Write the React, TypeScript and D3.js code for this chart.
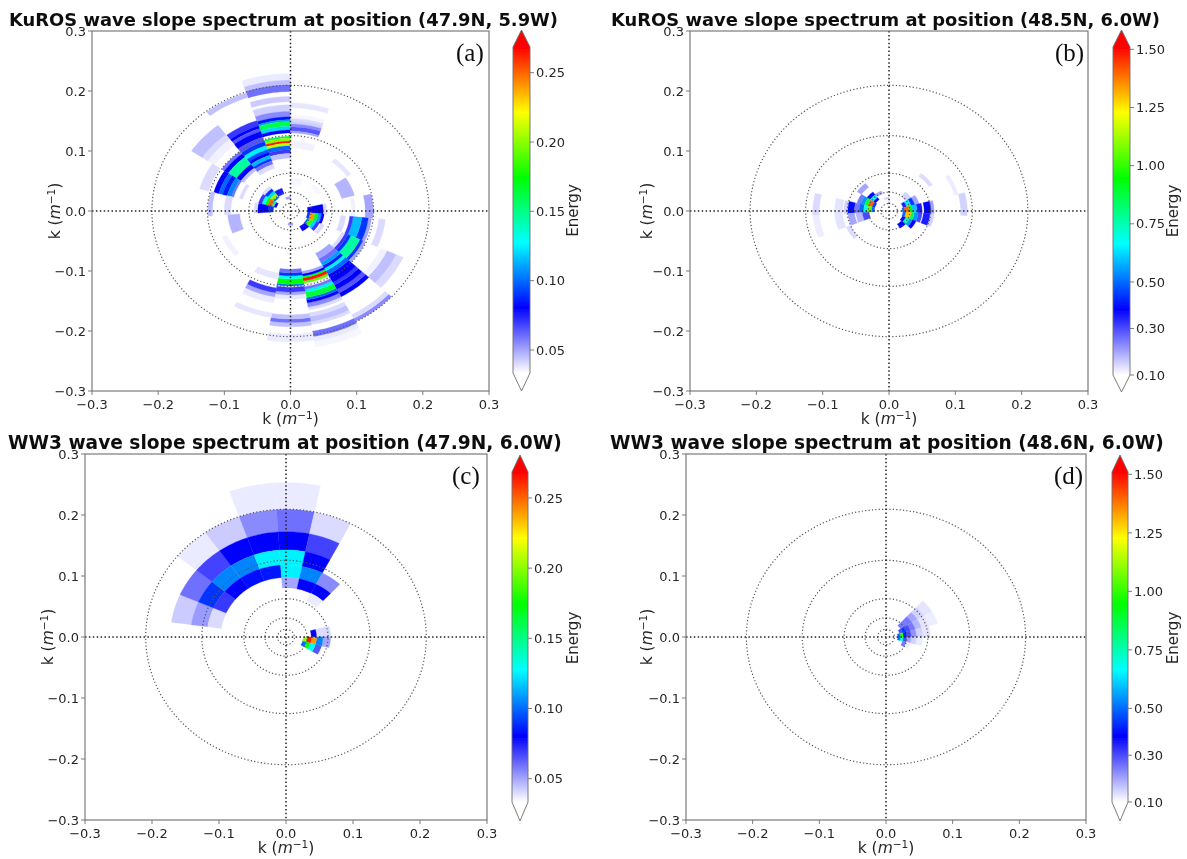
import React from "react";
import * as d3 from "d3";

type Band = [number, number, number]; // kLo, kHi, energy
type Sector = [number, number, Band[]]; // from, to (degrees clockwise from north), bands

const axisTicks = [-0.3, -0.2, -0.1, 0, 0.1, 0.2, 0.3];
// circles at wavelengths 30, 50, 100, 200, 500 m
const wavelengths = [30, 50, 100, 200, 500];
const lowTicks = [0.05, 0.1, 0.15, 0.2, 0.25];
const highTicks = [0.1, 0.3, 0.5, 0.75, 1.0, 1.25, 1.5];
const lowRange: [number, number] = [0.0334, 0.2685];
const highRange: [number, number] = [0.1, 1.51];
const colorStops = ["#ffffff", "#0000ff", "#00ffff", "#00ff00", "#ffff00", "#ff0000"];

const titleA = "KuROS wave slope spectrum at position (47.9N, 5.9W)";
const titleB = "KuROS wave slope spectrum at position (48.5N, 6.0W)";
const titleC = "WW3 wave slope spectrum at position (47.9N, 6.0W)";
const titleD = "WW3 wave slope spectrum at position (48.6N, 6.0W)";

const kurosA: Sector[] = [
  [-18.75, 0, [[0.218,0.229,0.037],[0.21,0.218,0.045],[0.199,0.21,0.06],[0.182,0.191,0.043],[0.166,0.177,0.042],[0.157,0.166,0.055],[0.152,0.157,0.085],[0.149,0.152,0.11],[0.141,0.149,0.16],[0.135,0.141,0.12],[0.13,0.135,0.08],[0.1214,0.1245,0.16],[0.1165,0.1214,0.2],[0.113,0.1165,0.265],[0.1085,0.113,0.21],[0.102,0.1085,0.1],[0.096,0.102,0.07],[0.088,0.096,0.045],[0.02,0.024,0.05]]],
  [-37.5, -18.75, [[0.2,0.208,0.045],[0.15,0.159,0.07],[0.145,0.15,0.08],[0.14,0.145,0.065],[0.13,0.14,0.08],[0.122,0.13,0.065],[0.115,0.122,0.09],[0.108,0.115,0.125],[0.103,0.108,0.095],[0.098,0.103,0.08],[0.092,0.098,0.115],[0.088,0.092,0.09],[0.082,0.088,0.06],[0.075,0.082,0.04],[0.03,0.04,0.075]]],
  [-56.25, -37.5, [[0.16,0.18,0.045],[0.15,0.16,0.04],[0.138,0.15,0.036],[0.12,0.125,0.06],[0.113,0.12,0.08],[0.098,0.113,0.145],[0.09,0.098,0.08],[0.085,0.09,0.045],[0.028,0.031,0.1],[0.031,0.037,0.2],[0.037,0.042,0.12],[0.042,0.047,0.09],[0.047,0.052,0.04]]],
  [-75, -56.25, [[0.128,0.142,0.04],[0.112,0.12,0.08],[0.106,0.112,0.1],[0.099,0.106,0.085],[0.092,0.099,0.105],[0.089,0.092,0.06],[0.075,0.08,0.04],[0.022,0.026,0.08],[0.026,0.029,0.15],[0.029,0.036,0.25],[0.036,0.04,0.175],[0.04,0.045,0.13],[0.045,0.05,0.07]]],
  [-93.75, -75, [[0.118,0.125,0.045],[0.09,0.1,0.04],[0.026,0.034,0.09],[0.034,0.05,0.08],[0.05,0.055,0.04]]],
  [0, 18.75, [[0.172,0.18,0.038],[0.154,0.16,0.035],[0.15,0.154,0.04],[0.145,0.15,0.042],[0.14,0.145,0.055],[0.133,0.14,0.065],[0.13,0.133,0.05],[0.105,0.116,0.036],[0.045,0.055,0.035]]],
  [37.5, 56.25, [[0.103,0.11,0.038],[0.05,0.056,0.035]]],
  [56.25, 75, [[0.08,0.1,0.047]]],
  [76.9, 95.6, [[0.113,0.125,0.05],[0.092,0.098,0.036],[0.026,0.05,0.08],[0.05,0.055,0.04]]],
  [95.6, 114.4, [[0.134,0.144,0.04],[0.118,0.123,0.05],[0.108,0.118,0.09],[0.095,0.108,0.115],[0.09,0.095,0.07],[0.076,0.084,0.04],[0.026,0.03,0.09],[0.03,0.037,0.24],[0.037,0.042,0.17],[0.042,0.047,0.11],[0.047,0.051,0.08]]],
  [114.4, 133.1, [[0.175,0.187,0.04],[0.16,0.175,0.045],[0.15,0.16,0.036],[0.12,0.125,0.05],[0.115,0.12,0.09],[0.1,0.115,0.145],[0.095,0.1,0.09],[0.09,0.095,0.07],[0.085,0.09,0.04],[0.05,0.056,0.04],[0.028,0.031,0.1],[0.031,0.038,0.185],[0.038,0.043,0.12],[0.043,0.048,0.07]]],
  [133.1, 151.9, [[0.203,0.209,0.055],[0.196,0.203,0.04],[0.155,0.162,0.08],[0.148,0.155,0.065],[0.14,0.148,0.08],[0.135,0.14,0.07],[0.12,0.135,0.08],[0.113,0.12,0.1],[0.108,0.113,0.125],[0.103,0.108,0.085],[0.097,0.103,0.11],[0.09,0.097,0.06],[0.08,0.09,0.05],[0.029,0.038,0.08]]],
  [151.9, 170.6, [[0.22,0.23,0.035],[0.212,0.22,0.037],[0.203,0.212,0.06],[0.187,0.192,0.04],[0.178,0.187,0.045],[0.172,0.178,0.04],[0.162,0.167,0.04],[0.155,0.162,0.055],[0.15,0.155,0.08],[0.146,0.15,0.1],[0.137,0.146,0.165],[0.132,0.137,0.125],[0.128,0.132,0.06],[0.118,0.122,0.19],[0.113,0.118,0.265],[0.11,0.113,0.17],[0.106,0.11,0.08],[0.102,0.106,0.05]]],
  [170.6, 189.4, [[0.205,0.218,0.037],[0.186,0.193,0.045],[0.18,0.186,0.06],[0.173,0.18,0.045],[0.14,0.147,0.037],[0.135,0.14,0.05],[0.127,0.135,0.07],[0.122,0.125,0.1],[0.113,0.122,0.175],[0.108,0.113,0.13],[0.103,0.108,0.09],[0.097,0.103,0.06],[0.02,0.024,0.05]]],
  [189.4, 208.1, [[0.172,0.18,0.038],[0.145,0.155,0.037],[0.138,0.145,0.05],[0.13,0.138,0.07],[0.105,0.115,0.038]]],
  [228, 247, [[0.104,0.112,0.036]]],
  [247, 266.25, [[0.077,0.095,0.047]]],
];

const kurosB: Sector[] = [
  [37.5, 56.25, [[0.073,0.079,0.14],[0.03,0.04,0.15]]],
  [56.25, 75, [[0.102,0.108,0.12],[0.04,0.047,0.2],[0.034,0.04,0.45],[0.027,0.034,0.65],[0.022,0.027,0.35]]],
  [75, 93.75, [[0.108,0.118,0.15],[0.063,0.068,0.2],[0.053,0.063,0.38],[0.042,0.05,0.35],[0.035,0.042,0.6],[0.03,0.035,0.95],[0.023,0.03,1.4],[0.02,0.023,0.5]]],
  [93.75, 112.5, [[0.062,0.068,0.15],[0.052,0.062,0.35],[0.044,0.05,0.3],[0.038,0.044,0.55],[0.033,0.038,0.85],[0.025,0.033,1.3],[0.021,0.025,0.5]]],
  [112.5, 131.25, [[0.038,0.044,0.38],[0.033,0.038,0.55],[0.027,0.033,0.75],[0.022,0.027,0.4]]],
  [131.25, 150, [[0.025,0.033,0.38]]],
  [-18.75, 0, [[0.02,0.023,0.15]]],
  [-37.5, -18.75, [[0.03,0.035,0.2]]],
  [-56.25, -37.5, [[0.05,0.058,0.2],[0.034,0.04,0.4],[0.028,0.034,0.65],[0.024,0.028,0.38]]],
  [-75, -56.25, [[0.044,0.05,0.25],[0.038,0.044,0.55],[0.033,0.038,0.9],[0.026,0.033,1.4],[0.022,0.026,0.45]]],
  [-93.75, -75, [[0.105,0.115,0.14],[0.07,0.082,0.13],[0.062,0.068,0.15],[0.052,0.062,0.4],[0.045,0.052,0.25],[0.038,0.045,0.5],[0.033,0.038,0.7],[0.026,0.033,1.05],[0.022,0.026,0.5]]],
  [-112.5, -93.75, [[0.105,0.115,0.12],[0.07,0.082,0.13],[0.052,0.062,0.2],[0.04,0.05,0.18],[0.03,0.04,0.3]]],
  [-131.25, -112.5, [[0.063,0.07,0.14]]],
];

// WW3 frequency bins share one set of edges, outermost first
const ww3Edges = [0.253, 0.209, 0.1727, 0.1427, 0.118, 0.0975, 0.0806, 0.0666, 0.055, 0.0455, 0.0376, 0.031, 0.0257, 0.0212, 0.0175];
type Row = [number, number, number, number[]]; // from, to, first bin, values

const ww3C: Row[] = [
  [-81.9, -66.3, 2, [0.043, 0.052, 0.04]],
  [-66.3, -50.7, 2, [0.06, 0.09, 0.07]],
  [-50.7, -35.1, 1, [0.037, 0.068, 0.105, 0.08]],
  [-35.1, -19.5, 1, [0.043, 0.08, 0.105, 0.082]],
  [-19.5, -3.9, 0, [0.037, 0.055, 0.08, 0.125, 0.085]],
  [-3.9, 11.7, 0, [0.037, 0.06, 0.08, 0.125, 0.125, 0.05]],
  [11.7, 27.4, 1, [0.04, 0.068, 0.08, 0.105, 0.08]],
  [27.4, 43, 4, [0.055, 0.08, 0.037]],
  [74.2, 89.8, 7, [0.04, 0.04, 0.08]],
  [89.8, 105.4, 7, [0.05, 0.105, 0.24, 0.265, 0.2]],
  [105.4, 121, 8, [0.065, 0.13, 0.17, 0.1]],
];

const ww3D: Row[] = [
  [43, 58.6, 6, [0.13, 0.15, 0.2, 0.25, 0.25, 0.25]],
  [58.6, 74.2, 6, [0.12, 0.13, 0.18, 0.25, 0.3, 0.45, 0.3]],
  [74.2, 89.8, 7, [0.13, 0.15, 0.22, 0.3, 0.42, 1.0, 0.5]],
  [89.8, 105.4, 7, [0.1, 0.12, 0.15, 0.2, 0.3, 0.7, 0.5]],
  [105.4, 121, 10, [0.12, 0.25]],
];

const rowsToSectors = (rows: Row[]): Sector[] =>
  rows.map(([from, to, first, vals]) => [
    from,
    to,
    vals.map((v, i): Band => [ww3Edges[first + i + 1], ww3Edges[first + i], v]),
  ]);

const makeColor = (range: [number, number]) =>
  d3
    .scaleLinear<string>()
    .domain(colorStops.map((_, i) => range[0] + ((range[1] - range[0]) * i) / (colorStops.length - 1)))
    .range(colorStops)
    .clamp(true);

const FONT = "DejaVu Sans";
const INK = "#262626";
const SPINE = "#6e6e6e";
const fmt = (t: number) => d3.format(".1f")(t).replace("-", "\u2212");

type PanelProps = {
  id: string;
  box: [number, number, number, number]; // left, top, right, bottom
  title: string;
  titleX: number;
  titleY: number;
  titleSize: number;
  letter: string;
  letterX: number;
  sectors: Sector[];
  range: [number, number];
  ticks: number[];
  tickFmt: string;
  bar: [number, number, number, number, number, number]; // x0, x1, tipTop, bodyTop, bodyBottom, tipBottom
  barLabelX: number;
  yLabelX: number;
};

function KLabel({ x, y, rotate }: { x: number; y: number; rotate?: boolean }) {
  return (
    <text
      transform={rotate ? `translate(${x},${y}) rotate(-90)` : `translate(${x},${y})`}
      textAnchor="middle"
      fontFamily={FONT}
      fontSize={15.5}
      fill={INK}
    >
      k (<tspan fontStyle="italic">m</tspan>
      <tspan fontSize={10.5} dy={-5}>{"\u22121"}</tspan>
      <tspan dy={5}>)</tspan>
    </text>
  );
}

function Panel(p: PanelProps) {
  const [l, t, r, b] = p.box;
  const x = d3.scaleLinear().domain([-0.3, 0.3]).range([l, r]);
  const y = d3.scaleLinear().domain([-0.3, 0.3]).range([b, t]);
  const color = makeColor(p.range);
  const line = d3.line<[number, number]>().x((d) => x(d[0])).y((d) => y(d[1]));
  const arcPts = (k: number, a0: number, a1: number) =>
    d3.range(0, 1.0001, 0.1).map((f): [number, number] => {
      const a = ((a0 + (a1 - a0) * f) * Math.PI) / 180;
      return [k * Math.sin(a), k * Math.cos(a)];
    });
  const cellPath = (from: number, to: number, lo: number, hi: number) =>
    line([...arcPts(hi, from, to), ...arcPts(lo, to, from)]) + "Z";
  const circlePath = (k: number) => line(d3.range(0, 361, 3).map((a): [number, number] => {
    const rad = (a * Math.PI) / 180;
    return [k * Math.sin(rad), k * Math.cos(rad)];
  }));

  const [bx0, bx1, tipTop, bodyTop, bodyBottom, tipBottom] = p.bar;
  const barY = d3.scaleLinear().domain(p.range).range([bodyBottom, bodyTop]);
  const bxm = (bx0 + bx1) / 2;
  const gradId = `grad-${p.id}`;
  const clipId = `clip-${p.id}`;

  return (
    <g>
      <text x={p.titleX} y={p.titleY} fontFamily={FONT} fontWeight="bold" fontSize={p.titleSize} fill="#111">
        {p.title}
      </text>
      <clipPath id={clipId}>
        <rect x={l} y={t} width={r - l} height={b - t} />
      </clipPath>
      <g clipPath={`url(#${clipId})`}>
        <g filter="url(#soft)">
          {p.sectors.flatMap(([from, to, bands], i) =>
            bands.map(([lo, hi, v], j) => (
              <path key={`${i}-${j}`} d={cellPath(from, to, lo, hi)} fill={color(v)} stroke={color(v)} strokeWidth={0.3} />
            ))
          )}
        </g>
        {wavelengths.map((w) => (
          <path key={w} d={circlePath((2 * Math.PI) / w) ?? ""} fill="none" stroke="#555" strokeWidth={1.2} strokeDasharray="1.2 2.2" />
        ))}
        <line x1={x(0)} x2={x(0)} y1={t} y2={b} stroke="#222" strokeWidth={1.5} strokeDasharray="1.5 2.4" />
        <line x1={l} x2={r} y1={y(0)} y2={y(0)} stroke="#222" strokeWidth={1.5} strokeDasharray="1.5 2.4" />
      </g>
      <rect x={l} y={t} width={r - l} height={b - t} fill="none" stroke={SPINE} strokeWidth={1.1} />
      {axisTicks.map((tk) => (
        <g key={tk}>
          <line x1={x(tk)} x2={x(tk)} y1={b} y2={b + 4} stroke={SPINE} strokeWidth={0.9} />
          <text x={x(tk)} y={b + 18} textAnchor="middle" fontFamily={FONT} fontSize={13} fill={INK}>
            {fmt(tk)}
          </text>
          <line x1={l - 4} x2={l} y1={y(tk)} y2={y(tk)} stroke={SPINE} strokeWidth={0.9} />
          <text x={l - 6} y={y(tk) + 4.7} textAnchor="end" fontFamily={FONT} fontSize={13} fill={INK}>
            {fmt(tk)}
          </text>
        </g>
      ))}
      <KLabel x={x(0)} y={b + 33} />
      <KLabel x={p.yLabelX} y={y(0)} rotate />
      <text x={p.letterX} y={t + 30} fontFamily="Liberation Serif" fontSize={25} fill="#111">
        {p.letter}
      </text>

      <linearGradient id={gradId} x1="0" x2="0" y1="1" y2="0">
        {colorStops.map((c, i) => (
          <stop key={c} offset={i / (colorStops.length - 1)} stopColor={c} />
        ))}
      </linearGradient>
      <rect x={bx0} y={bodyTop} width={bx1 - bx0} height={bodyBottom - bodyTop} fill={`url(#${gradId})`} />
      <path d={`M${bx0},${bodyTop}L${bxm},${tipTop}L${bx1},${bodyTop}Z`} fill="#ff0000" />
      <path
        d={`M${bx0},${bodyTop}L${bxm},${tipTop}L${bx1},${bodyTop}L${bx1},${bodyBottom}L${bxm},${tipBottom}L${bx0},${bodyBottom}Z`}
        fill="none"
        stroke={SPINE}
        strokeWidth={0.9}
      />
      {p.ticks.map((tk) => (
        <g key={tk}>
          <line x1={bx1} x2={bx1 + 4} y1={barY(tk)} y2={barY(tk)} stroke={SPINE} strokeWidth={0.9} />
          <text x={bx1 + 6} y={barY(tk) + 4.7} fontFamily={FONT} fontSize={13} fill={INK}>
            {d3.format(p.tickFmt)(tk)}
          </text>
        </g>
      ))}
      <text
        transform={`translate(${p.barLabelX},${(tipTop + tipBottom) / 2}) rotate(-90)`}
        textAnchor="middle"
        fontFamily={FONT}
        fontSize={15}
        fill={INK}
      >
        Energy
      </text>
    </g>
  );
}

export default function App() {
  return (
    <svg
      width={1187}
      height={859}
      viewBox="0 0 1187 859"
      style={{ position: "absolute", left: 0, top: 0, background: "#fff" }}
    >
      <defs>
        <filter id="soft" x="-5%" y="-5%" width="110%" height="110%">
          <feGaussianBlur stdDeviation={0.5} />
        </filter>
        <filter id="page" x="0" y="0" width="100%" height="100%">
          <feGaussianBlur stdDeviation={0.35} />
        </filter>
      </defs>
      <g filter="url(#page)">
        <rect x={0} y={0} width={1187} height={859} fill="#fff" />
        <Panel id="a" box={[92, 31, 489, 391]} title={titleA} titleX={9} titleY={26} titleSize={17.9} letter="(a)" letterX={456} sectors={kurosA}
          range={lowRange} ticks={lowTicks} tickFmt=".2f" bar={[513, 530, 30, 47, 373, 391]} barLabelX={578} yLabelX={60} />
        <Panel id="b" box={[690, 31, 1088, 391]} title={titleB} titleX={611} titleY={26} titleSize={17.9} letter="(b)" letterX={1055} sectors={kurosB}
          range={highRange} ticks={highTicks} tickFmt=".2f" bar={[1113, 1130, 30, 47, 375, 392]} barLabelX={1178} yLabelX={652} />
        <Panel id="c" box={[85, 454, 487, 820]} title={titleC} titleX={8} titleY={449} titleSize={18.6} letter="(c)" letterX={452} sectors={rowsToSectors(ww3C)}
          range={lowRange} ticks={lowTicks} tickFmt=".2f" bar={[512, 528, 455, 472, 802, 821]} barLabelX={578} yLabelX={53} />
        <Panel id="d" box={[686, 454, 1086, 820]} title={titleD} titleX={610} titleY={449} titleSize={18.6} letter="(d)" letterX={1054} sectors={rowsToSectors(ww3D)}
          range={highRange} ticks={highTicks} tickFmt=".2f" bar={[1112, 1128, 455, 472, 802, 821]} barLabelX={1178} yLabelX={652} />
      </g>
    </svg>
  );
}
